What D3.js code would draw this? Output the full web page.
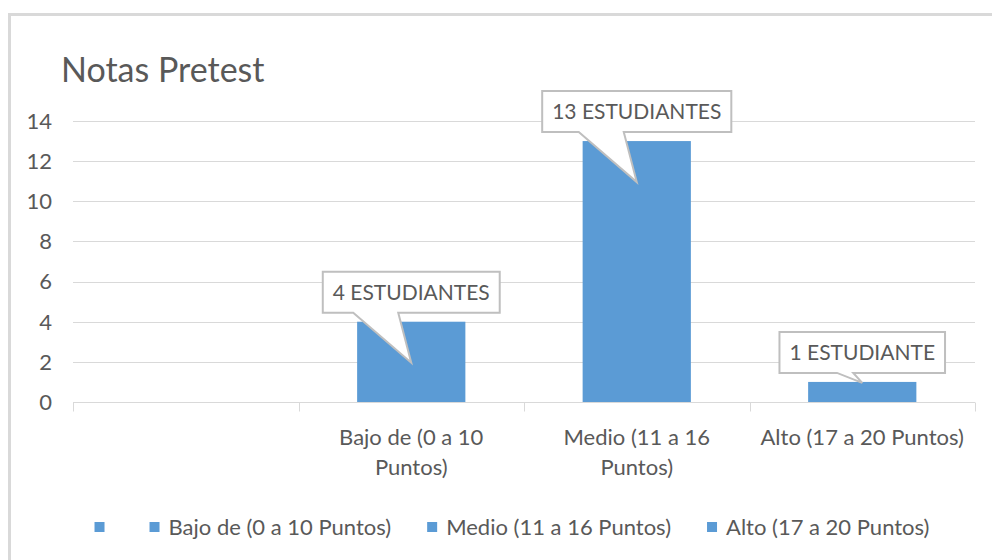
<!DOCTYPE html>
<html>
<head>
<meta charset="utf-8">
<script src="https://cdn.jsdelivr.net/npm/d3@7"></script>
<style>
  body { margin: 0; background: #fff; }
  svg { display: block; }
  text { font-family: Lato, "Open Sans", sans-serif; fill: #595959; }
</style>
</head>
<body>
<svg id="chart" width="992" height="560"></svg>
<script>
// data
const categories = ["", "Bajo de (0 a 10 Puntos)", "Medio (11 a 16 Puntos)", "Alto (17 a 20 Puntos)"];
const values = [null, 4, 13, 1];
const callouts = ["", "4 ESTUDIANTES", "13 ESTUDIANTES", "1 ESTUDIANTE"];
const yTicks = [0, 2, 4, 6, 8, 10, 12, 14];
const title = "Notas Pretest";

const barColor = "#5b9bd5";
const gridColor = "#d9d9d9";

const svg = d3.select("#chart");

// chart area border (runs off the right and bottom of the shot)
svg.append("rect")
  .attr("x", 9.5).attr("y", 14.5)
  .attr("width", 1100).attr("height", 700)
  .attr("fill", "#fff")
  .attr("stroke", gridColor)
  .attr("stroke-width", 3);

svg.append("text")
  .attr("x", 61).attr("y", 82)
  .style("font-size", "34px")
  .text(title);

const x = d3.scaleBand().domain(categories).range([73, 975]);
const y = d3.scaleLinear().domain([0, 14]).range([402, 121]);

// gridlines
svg.append("g").selectAll("line")
  .data(yTicks.filter(d => d > 0))
  .enter().append("line")
  .attr("x1", 73).attr("x2", 975)
  .attr("y1", d => Math.round(y(d)) + 0.5)
  .attr("y2", d => Math.round(y(d)) + 0.5)
  .attr("stroke", gridColor);

// y labels
svg.append("g").selectAll("text")
  .data(yTicks)
  .enter().append("text")
  .attr("x", 52)
  .attr("y", d => y(d))
  .attr("dy", "0.36em")
  .attr("text-anchor", "end")
  .style("font-size", "22px")
  .text(d => d);

// x axis
const xAxis = svg.append("g")
  .attr("transform", "translate(0," + (Math.round(y(0)) + 0.5) + ")")
  .call(d3.axisBottom(x).tickSize(0).tickFormat(""));
xAxis.select(".domain").attr("stroke", gridColor).attr("d", "M73,0H975");

const bounds = categories.map(c => x(c)).concat([x.range()[1]]);
xAxis.selectAll(".sep")
  .data(bounds)
  .enter().append("line")
  .attr("class", "sep")
  .attr("x1", d => Math.round(d) + 0.5).attr("x2", d => Math.round(d) + 0.5)
  .attr("y1", 0).attr("y2", 9)
  .attr("stroke", gridColor);

// category labels, wrapped to the band
const labels = svg.append("g").selectAll("text")
  .data(categories)
  .enter().append("text")
  .attr("text-anchor", "middle")
  .style("font-size", "22px")
  .attr("x", d => x(d) + x.bandwidth() / 2)
  .attr("y", 445);

labels.each(function(d) {
  const t = d3.select(this);
  const words = d.split(" ");
  let line = [];
  let tspan = t.append("tspan").attr("x", t.attr("x")).attr("dy", 0);
  words.forEach(w => {
    line.push(w);
    tspan.text(line.join(" "));
    if (tspan.node().getComputedTextLength() > 210 && line.length > 1) {
      line.pop();
      tspan.text(line.join(" "));
      line = [w];
      tspan = t.append("tspan").attr("x", t.attr("x")).attr("dy", 30).text(w);
    }
  });
});

// bars
const barW = x.bandwidth() * 0.48;
const data = categories.map((c, i) => ({ cat: c, value: values[i], label: callouts[i] }))
  .filter(d => d.value != null);

svg.append("g").selectAll("rect")
  .data(data)
  .enter().append("rect")
  .attr("x", d => x(d.cat) + (x.bandwidth() - barW) / 2)
  .attr("y", d => y(d.value))
  .attr("width", barW)
  .attr("height", d => y(0) - y(d.value))
  .attr("fill", barColor);

// callouts
const co = svg.append("g").selectAll("g")
  .data(data)
  .enter().append("g");

co.each(function(d) {
  const g = d3.select(this);
  const cx = x(d.cat) + x.bandwidth() / 2;
  const top = y(d.value);
  const bottom = top - 9;
  const boxTop = bottom - 41;
  const path = g.append("path");
  const txt = g.append("text")
    .attr("x", cx).attr("y", bottom - 20.5)
    .attr("dy", "0.36em")
    .attr("text-anchor", "middle")
    .style("font-size", "21px")
    .text(d.label);
  const w = txt.node().getComputedTextLength() + 20;
  const barH = y(0) - top;
  const tipY = barH > 60 ? top + 41 : top + 1;
  const len = tipY - bottom;
  const bl = cx - (17 + 0.82 * len);
  const br = cx - (8 + 0.1 * len);
  const l = cx - w / 2, r = cx + w / 2;
  path.attr("d", `M${l},${boxTop}H${r}V${bottom}H${br}L${cx},${tipY}L${bl},${bottom}H${l}Z`)
    .attr("fill", "#fff")
    .attr("stroke", "#bfbfbf")
    .attr("stroke-width", 2);
});

// legend
const legend = svg.append("g").attr("transform", "translate(0,527)");
const items = legend.selectAll("g")
  .data(categories)
  .enter().append("g");
items.append("rect")
  .attr("x", 0).attr("y", -5)
  .attr("width", 10).attr("height", 10)
  .attr("fill", barColor);
items.append("text")
  .attr("x", 19).attr("dy", "0.36em")
  .style("font-size", "22px")
  .text(d => d);

let pos = 0;
const offs = [];
const gap = 36;
items.each(function() {
  offs.push(pos);
  pos += 19 + d3.select(this).select("text").node().getComputedTextLength() + gap;
});
const total = pos - gap;
const start = 512 - total / 2;
items.attr("transform", (d, i) => "translate(" + (start + offs[i]) + ",0)");
</script>
</body>
</html>
